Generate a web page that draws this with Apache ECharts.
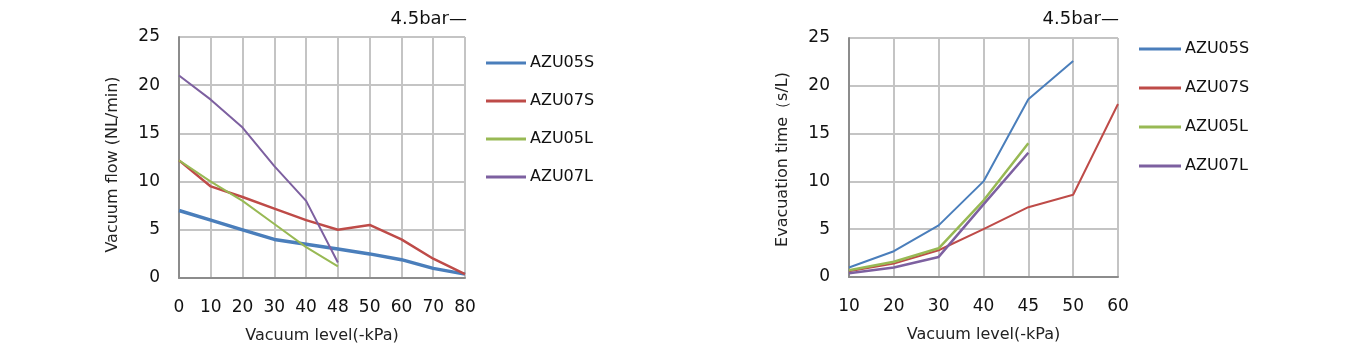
<!DOCTYPE html>
<html><head><meta charset="utf-8">
<script src="https://cdn.jsdelivr.net/npm/echarts@6/dist/echarts.min.js"></script>
<style>html,body{margin:0;padding:0;background:#fff}#c{width:1353px;height:356px}</style>
</head><body><div id="c"></div>
<script>
const seriesNames = ['AZU05S','AZU07S','AZU05L','AZU07L'];
const colors = ['#4a7ebb','#be4b48','#98b954','#7d60a0'];

// Left chart: vacuum flow
const flowCategories = ['0','10','20','30','40','48','50','60','70','80'];
const flowAZU05S = [7.0, 6.0, 5.0, 4.0, 3.5, 3.0, 2.5, 1.9, 1.0, 0.4];
const flowAZU07S = [12.2, 9.5, 8.4, 7.2, 6.0, 5.0, 5.5, 4.0, 2.0, 0.4];
const flowAZU05L = [12.2, 10.0, 8.0, 5.6, 3.2, 1.2, null, null, null, null];
const flowAZU07L = [21.0, 18.5, 15.6, 11.6, 8.0, 1.6, null, null, null, null];
const flowTicks = [0, 5, 10, 15, 20, 25];

// Right chart: evacuation time
const evacCategories = ['10','20','30','40','45','50','60'];
const evacAZU05S = [1.0, 2.7, 5.4, 10.0, 18.6, 22.6, null];
const evacAZU07S = [0.6, 1.4, 2.8, 5.0, 7.3, 8.6, 18.1];
const evacAZU05L = [0.7, 1.6, 3.0, 8.0, 14.0, null, null];
const evacAZU07L = [0.4, 1.0, 2.1, 7.6, 13.0, null, null];

const FONT = 'DejaVu Sans';
const chart = echarts.init(document.getElementById('c'));

function xAxis(idx, data) {
  return {
    type: 'category', gridIndex: idx, data: data, boundaryGap: false,
    name: 'Vacuum level(-kPa)', nameLocation: 'middle', nameGap: 50,
    nameTextStyle: {fontFamily: FONT, fontSize: 16, color: '#222'},
    axisLine: {lineStyle: {color: '#8c8c8c', width: 2}},
    axisTick: {show: false},
    axisLabel: {fontFamily: FONT, fontSize: 17, color: '#111', margin: 21},
    splitLine: {show: true, lineStyle: {color: '#c4c4c4', width: 2}}
  };
}
function yAxis(idx, name, pad) {
  return {
    type: 'value', gridIndex: idx, min: 0, max: 25, interval: 5,
    name: name, nameLocation: 'middle', nameGap: 58, nameRotate: 90,
    nameTextStyle: {fontFamily: FONT, fontSize: 16, color: '#222', padding: [0, pad, 0, 0]},
    axisLine: {show: true, lineStyle: {color: '#8c8c8c', width: 2}},
    axisTick: {show: false},
    axisLabel: {fontFamily: FONT, fontSize: 17, color: '#111', margin: 19},
    splitLine: {show: true, lineStyle: {color: '#c4c4c4', width: 2}}
  };
}
function line(name, data, xi, width) {
  return {
    type: 'line', name: name, data: data, xAxisIndex: xi, yAxisIndex: xi,
    symbol: 'none', connectNulls: false,
    lineStyle: {width: width, color: colors[seriesNames.indexOf(name)]},
    itemStyle: {color: colors[seriesNames.indexOf(name)]}
  };
}
function legend(left, top, w, gap) {
  return {
    left: left, top: top,
    orient: 'vertical', icon: 'rect', itemWidth: w, itemHeight: 3, itemGap: gap,
    textStyle: {fontFamily: FONT, fontSize: 16, color: '#111', padding: [0,0,0,-1]},
    data: seriesNames
  };
}

chart.setOption({
  animation: false,
  grid: [
    {left: 179, top: 37, width: 286, height: 241},
    {left: 849, top: 38, width: 269, height: 239}
  ],
  xAxis: [xAxis(0, flowCategories), xAxis(1, evacCategories)],
  yAxis: [yAxis(0, 'Vacuum flow (NL/min)', 14), yAxis(1, 'Evacuation time（s/L)', 4)],
  legend: [legend(481, 50, 40, 22), legend(1134, 36, 42, 23)],
  graphic: [
    {type: 'text', right: 1353 - 467, top: 10, style: {text: '4.5bar—', font: '18px "DejaVu Sans"', fill: '#111'}},
    {type: 'text', right: 1353 - 1119, top: 10, style: {text: '4.5bar—', font: '18px "DejaVu Sans"', fill: '#111'}}
  ],
  series: [
    line('AZU05S', flowAZU05S, 0, 3.5),
    line('AZU07S', flowAZU07S, 0, 2.5),
    line('AZU05L', flowAZU05L, 0, 2),
    line('AZU07L', flowAZU07L, 0, 2),
    line('AZU05S', evacAZU05S, 1, 2),
    line('AZU07S', evacAZU07S, 1, 2),
    line('AZU05L', evacAZU05L, 1, 2.5),
    line('AZU07L', evacAZU07L, 1, 2.5)
  ]
});
</script></body></html>
